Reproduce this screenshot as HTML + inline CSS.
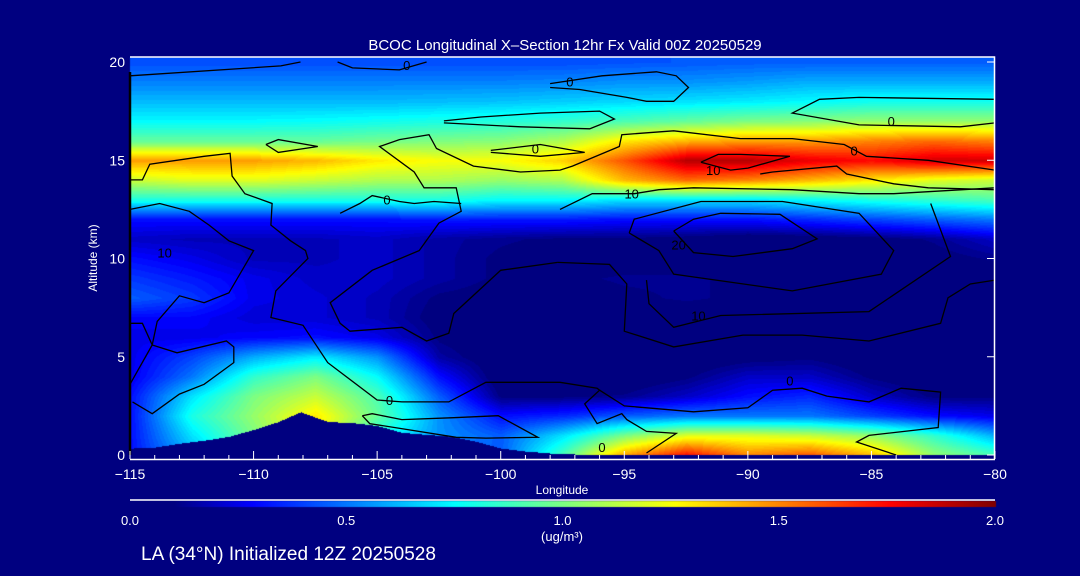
<!DOCTYPE html>
<html><head><meta charset="utf-8">
<style>
html,body{margin:0;padding:0;background:#000080;}
#wrap{position:relative;width:1080px;height:576px;background:#000080;overflow:hidden;font-family:"Liberation Sans",sans-serif;color:#fff;}
canvas,svg{position:absolute;left:0;top:0;}
</style></head>
<body>
<div id="wrap">
<canvas id="cv" width="1080" height="576"></canvas>
<svg id="sv" width="1080" height="576"></svg>
</div>
<script>
// ---- data ----
const lons = [-115,-112.5,-110,-107.5,-105,-102.5,-100,-97.5,-95,-92.5,-90,-87.5,-85,-82.5,-80];
const alts = [0,1,2,3,4,5,6,7,8,9,10,11,12,13,14,15,16,17,18,19,20];
const r0 =[.3,.6,.9,1.2,.7,.5,.45,.9,1.45,1.75,1.5,1.6,1.4,1.05,.9];
const r1 =[.3,.7,1.0,1.3,.8,.55,.45,.7,1.0,1.2,1.2,1.15,1.05,.85,.6];
const r2 =[.3,.8,1.05,1.3,.95,.55,.3,.35,.45,.5,.5,.5,.4,.3,.25];
const r3 =[.3,.7,1.0,1.15,.9,.45,.1,.1,.12,.2,.3,.35,.2,.1,.1];
const r4 =[.25,.5,.85,1.0,.75,.3,.05,.05,.05,.1,.2,.2,.1,.05,.05];
const r5 =[.25,.4,.6,.72,.55,.15,.05,.05,.05,.05,.08,.1,.05,.05,.05];
const r6 =[.25,.25,.28,.3,.25,.1,.05,.05,.05,.05,.05,.05,.05,.05,.05];
const r7 =[.28,.28,.22,.22,.18,.08,.05,.05,.05,.07,.07,.05,.05,.05,.05];
const r8 =[.45,.38,.25,.22,.18,.1,.08,.08,.1,.12,.1,.05,.05,.05,.05];
const r9 =[.38,.32,.25,.2,.2,.15,.1,.1,.12,.12,.1,.05,.05,.05,.05];
const r10=[.3,.25,.18,.18,.2,.15,.1,.08,.08,.08,.05,.05,.05,.08,.12];
const r11=[.2,.18,.18,.18,.2,.15,.12,.1,.1,.08,.05,.06,.08,.12,.2];
const r12=[.3,.3,.3,.3,.3,.32,.32,.32,.3,.3,.3,.35,.4,.45,.5];
const r13=[.8,.8,.8,.8,.8,.8,.75,.75,.7,.7,.7,.75,.8,.85,.9];
const r14=[1.15,1.2,1.2,1.15,1.1,1.1,1.05,1.1,1.4,1.55,1.5,1.4,1.3,1.2,1.15];
const r15=[1.45,1.45,1.45,1.4,1.3,1.25,1.25,1.35,1.6,1.9,1.9,1.8,1.75,1.85,1.85];
const r16=[.95,.95,.95,.95,.98,1.0,1.02,1.1,1.3,1.4,1.45,1.45,1.5,1.55,1.5];
const r17=[.75,.75,.75,.76,.78,.8,.82,.85,.9,.95,1.0,1.02,1.05,1.05,1.05];
const r18=[.62,.62,.62,.62,.62,.63,.64,.66,.68,.7,.72,.75,.78,.78,.78];
const r19=[.52,.52,.52,.52,.52,.52,.52,.53,.55,.55,.57,.6,.6,.6,.6];
const r20=[.42,.42,.42,.42,.42,.42,.42,.42,.43,.44,.45,.45,.45,.45,.45];
const field=[r0,r1,r2,r3,r4,r5,r6,r7,r8,r9,r10,r11,r12,r13,r14,r15,r16,r17,r18,r19,r20];
const terrainLon=[-115,-114,-113,-112,-111,-110,-109,-108.1,-107,-106,-105,-104,-103,-102,-101,-100,-99,-98,-97,-80];
const terrainAlt=[0.35,0.4,0.6,0.75,0.95,1.3,1.7,2.2,1.7,1.65,1.5,1.15,1.05,0.95,0.7,0.35,0.2,0.1,0.05,0.05];
const xTicks=[-115,-110,-105,-100,-95,-90,-85,-80];
const yTicks=[0,5,10,15,20];
const cbTicks=[0.0,0.5,1.0,1.5,2.0];
const contours=[
 [[-115,19.3],[-108.9,19.8],[-108.1,20]],
 [[-106.6,20],[-106.0,19.7],[-104.1,19.6],[-103.0,20]],
 [[-109.5,15.8],[-109.0,16.05],[-107.4,15.7],[-109.0,15.4],[-109.5,15.8]],
 [[-102.3,17.0],[-100.8,17.2],[-98.4,17.4],[-96.0,17.5],[-95.4,17.1],[-96.4,16.6],[-99.2,16.7],[-102.3,16.9]],
 [[-100.4,15.5],[-98.4,15.8],[-96.6,15.4],[-98.4,15.2],[-100.4,15.4]],
 [[-98,18.9],[-95.9,19.3],[-93.7,19.5],[-92.9,19.3],[-92.4,18.7],[-93,18],[-94.1,18],[-94.9,18.2],[-96.8,18.6],[-98,18.7]],
 [[-80,18.1],[-85.5,18.2],[-87.1,18.1],[-88.2,17.4],[-85.5,16.8],[-81.4,16.7],[-80,16.9]],
 [[-97.7,9.8],[-100,9.4],[-101.9,7.2],[-102.1,6.2],[-103,5.8],[-104,6.5],[-106.1,6.3],[-106.5,6.7],[-106.9,7.75],[-105.2,9.4],[-103.3,10.4],[-102.5,11.8],[-101.6,12.4],[-101.8,13.6],[-103.1,13.6],[-103.5,14.4],[-104.9,15.7],[-104.1,16.05],[-102.9,16.3],[-102.6,15.6],[-101.1,14.7],[-99.2,14.4],[-97.6,14.5],[-97.1,14.7],[-95.2,15.7],[-95.1,16.3],[-93,16.5],[-90.3,16.1],[-88.2,16.1],[-86.1,15.8],[-85.2,15.2],[-82.7,15.0],[-80,14.5]],
 [[-91.9,14.9],[-91.2,15.3],[-90.3,15.3],[-88.3,15.2],[-90,14.6],[-90.7,14.5],[-91.9,14.9]],
 [[-89.5,14.3],[-89,14.4],[-86.4,14.7],[-86,14.3],[-84.1,13.8],[-82.7,13.6],[-80,13.5]],
 [[-97.6,12.5],[-96.3,13.3],[-94.6,13.3],[-93.6,13.5],[-92.2,13.6],[-88.2,13.5],[-85.5,13.3],[-84.1,13.3],[-80,13.6]],
 [[-93.0,11.4],[-92.2,12.0],[-91.1,12.3],[-88.7,12.25],[-87.2,11.0],[-88.2,10.5],[-90.6,10.1],[-92.2,10.3],[-93.0,11.4]],
 [[-94.8,11.3],[-94.6,12.0],[-91.9,12.9],[-88.6,12.9],[-85.5,12.3],[-84.1,10.4],[-84.6,9.2],[-88.2,8.35],[-93.0,9.2],[-93.6,10.4],[-94.8,11.3]],
 [[-97.7,9.8],[-95.6,9.7],[-94.9,8.7],[-95.0,6.3],[-93.0,5.5],[-90.2,6.1],[-87.8,6.1],[-85.1,5.8],[-82.2,6.7],[-81.9,8.0],[-81.0,8.7],[-80,8.9]],
 [[-82.6,12.8],[-81.8,10.1],[-85.1,7.3],[-91.1,7.1],[-93,6.5],[-94,7.7],[-94.1,8.9]],
 [[-96.0,3.3],[-95.0,2.5],[-92.2,2.2],[-90.0,2.4],[-89.0,3.3],[-87.8,3.4],[-86.8,3.0],[-85.1,2.7],[-83.8,3.4],[-82.2,3.2],[-82.3,1.4],[-85.1,1.0],[-85.6,0.66],[-84.0,0]],
 [[-115,12.5],[-113.8,12.8],[-112.6,12.4],[-111.8,11.7],[-111.0,10.9],[-110,10.4],[-111,8.25],[-112,7.75],[-113,8.1],[-113.9,6.8],[-114.1,5.6],[-115,3.6]],
 [[-115,6.7],[-114.5,6.7],[-114.1,5.6],[-113.1,5.2],[-111.1,5.8],[-110.8,5.5],[-110.8,4.7],[-112.0,3.6],[-113.0,3.1],[-114.1,2.1],[-114.9,2.7]],
 [[-115,14.0],[-114.5,14.0],[-114.2,14.8],[-112,15.2],[-110.95,15.35],[-110.87,14.2],[-110.35,13.3],[-109.25,12.8],[-109.3,11.7],[-108.5,10.9],[-107.9,10.4],[-107.8,10.0],[-109.1,8.35],[-109.3,7.0],[-108,6.6],[-107,4.7],[-105,2.8],[-104,2.7],[-102.1,2.7],[-100.6,3.7],[-97.6,3.7],[-96.1,3.4],[-96,3.3],[-96.6,2.6],[-96.1,1.6],[-95.1,2.1],[-94.9,1.8],[-94.1,1.2],[-92.9,1.1],[-94.1,0.1]],
 [[-105.6,2.0],[-105.2,2.1],[-104.0,1.8],[-101.9,1.9],[-100.1,2.0],[-98.5,0.9],[-100.6,0.86],[-101.8,0.9],[-105.3,1.6],[-105.6,2.0]],
 [[-106.5,12.3],[-105.7,12.8],[-105.2,13.2],[-104.1,12.9],[-103.5,12.8],[-102.7,12.9],[-101.6,12.8]]
];
const cLabels=["0","0","0","0","0","0","0","0","0","10","10","10","10","20"];
const cLabelLon=[-103.8,-97.2,-98.6,-84.2,-85.7,-104.6,-88.3,-104.5,-95.9,-113.6,-94.7,-91.4,-92.0,-92.8];
const cLabelAlt=[19.85,19.0,15.6,17.0,15.5,13.0,3.8,2.8,0.4,10.3,13.3,14.5,7.1,10.7];

// ---- axes ----
const X0=130,X1=995,Ytop=62,Ybot=455;
const xs=l=>X0+(l+115)/35*(X1-X0);
const ys=a=>Ybot-a/20*(Ybot-Ytop);
const lonOf=x=>-115+(x-X0)/(X1-X0)*35;
const altOf=y=>(Ybot-y)/(Ybot-Ytop)*20;

function jet(v){
  let t=Math.max(0,Math.min(1,v/2));
  const st=[[0,0,0,128],[0.05,0,0,128],[0.14,0,0,255],[0.375,0,255,255],[0.63,255,255,0],[0.88,255,0,0],[1,128,0,0]];
  for(let i=1;i<st.length;i++){if(t<=st[i][0]){const a=st[i-1],b=st[i],f=(t-a[0])/(b[0]-a[0]);return [a[1]+f*(b[1]-a[1]),a[2]+f*(b[2]-a[2]),a[3]+f*(b[3]-a[3])];}}
  return [128,0,0];
}
function interp1(xa,ya,x){
  if(x<=xa[0])return ya[0];
  for(let i=1;i<xa.length;i++){if(x<=xa[i]){const f=(x-xa[i-1])/(xa[i]-xa[i-1]);return ya[i-1]+f*(ya[i]-ya[i-1]);}}
  return ya[ya.length-1];
}
function sample(lon,alt){
  let fi=(lon-lons[0])/(lons[1]-lons[0]);fi=Math.max(0,Math.min(lons.length-1.0001,fi));
  let fj=Math.max(0,Math.min(alts.length-1.0001,alt));
  const i=Math.floor(fi),j=Math.floor(fj),u=fi-i,w=fj-j;
  const a=field[j][i],b=field[j][i+1],c=field[j+1][i],d=field[j+1][i+1];
  return (a*(1-u)+b*u)*(1-w)+(c*(1-u)+d*u)*w;
}
const cv=document.getElementById('cv'),ctx=cv.getContext('2d');
const img=ctx.createImageData(1080,576);
for(let y=57;y<=Ybot;y++){for(let x=X0;x<X1;x++){
  const lon=lonOf(x),alt=altOf(y);
  let c;
  if(alt<interp1(terrainLon,terrainAlt,lon)) c=[0,0,128];
  else c=jet(Math.round(sample(lon,alt)*40)/40);
  const k=(y*1080+x)*4;img.data[k]=c[0];img.data[k+1]=c[1];img.data[k+2]=c[2];img.data[k+3]=255;
}}
ctx.putImageData(img,0,0);
for(let x=X0;x<=X1;x++){const c=jet((x-X0)/(X1-X0)*2);ctx.fillStyle=`rgb(${c[0]|0},${c[1]|0},${c[2]|0})`;ctx.fillRect(x,501,1,6);}

// ---- svg ----
const NS='http://www.w3.org/2000/svg',sv=document.getElementById('sv');
function mk(tag,attrs,txt){const e=document.createElementNS(NS,tag);for(const k in attrs)e.setAttribute(k,attrs[k]);if(txt!==undefined)e.textContent=txt;sv.appendChild(e);return e;}
contours.forEach((line,i)=>{
  const p=mk('polyline',{points:line.map(q=>xs(q[0]).toFixed(1)+','+ys(q[1]).toFixed(1)).join(' '),fill:'none',stroke:'#000','stroke-width':1.3});
  
  
});
cLabels.forEach((t,i)=>{
  const e=mk('text',{x:xs(cLabelLon[i]),y:ys(cLabelAlt[i])+5,'font-size':13,fill:'#000','text-anchor':'middle'},t);
  
  
});
let e;
e=mk('line',{x1:130,y1:72,x2:130,y2:455,stroke:'#000','stroke-width':2.5});

e=mk('polyline',{points:'130,57 994.5,57 994.5,459',fill:'none',stroke:'#fff','stroke-width':1.5});

e=mk('line',{x1:130,y1:459.5,x2:995,y2:459.5,stroke:'#fff','stroke-width':1.5});

for(let l=-115;l<=-80;l++){
  const major=xTicks.includes(l);
  e=mk('line',{x1:xs(l),y1:459,x2:xs(l),y2:major?451:455,stroke:'#fff','stroke-width':1});
  
}
xTicks.forEach(l=>{
  e=mk('text',{x:xs(l),y:479,'font-size':14,fill:'#fff','text-anchor':'middle'},(l<0?'\u2212':'')+Math.abs(l));
  
});
yTicks.forEach(a=>{
  e=mk('text',{x:125,y:ys(a)+5,'font-size':14,fill:'#fff','text-anchor':'end'},String(a));
  
  e=mk('line',{x1:987,y1:ys(a),x2:995,y2:ys(a),stroke:'#fff','stroke-width':1});
  
});
e=mk('text',{x:0,y:0,'font-size':12,fill:'#fff','text-anchor':'middle',transform:'translate(97,258) rotate(-90)'},'Altitude (km)');

e=mk('text',{x:562,y:494,'font-size':12,fill:'#fff','text-anchor':'middle'},'Longitude');

e=mk('text',{x:565,y:50,'font-size':15,fill:'#fff','text-anchor':'middle'},'BCOC Longitudinal X\u2013Section 12hr  Fx Valid 00Z 20250529');

e=mk('line',{x1:130,y1:500,x2:995,y2:500,stroke:'#fff','stroke-width':1.5});

cbTicks.forEach(v=>{
  e=mk('text',{x:X0+v/2*(X1-X0),y:525,'font-size':13,fill:'#fff','text-anchor':'middle'},v.toFixed(1));
  
});
e=mk('text',{x:562,y:541,'font-size':13,fill:'#fff','text-anchor':'middle'},'(ug/m\u00B3)');

e=mk('text',{x:141,y:560,'font-size':19,fill:'#fff'},'LA (34\u00B0N) Initialized 12Z 20250528');

</script>
</body></html>
